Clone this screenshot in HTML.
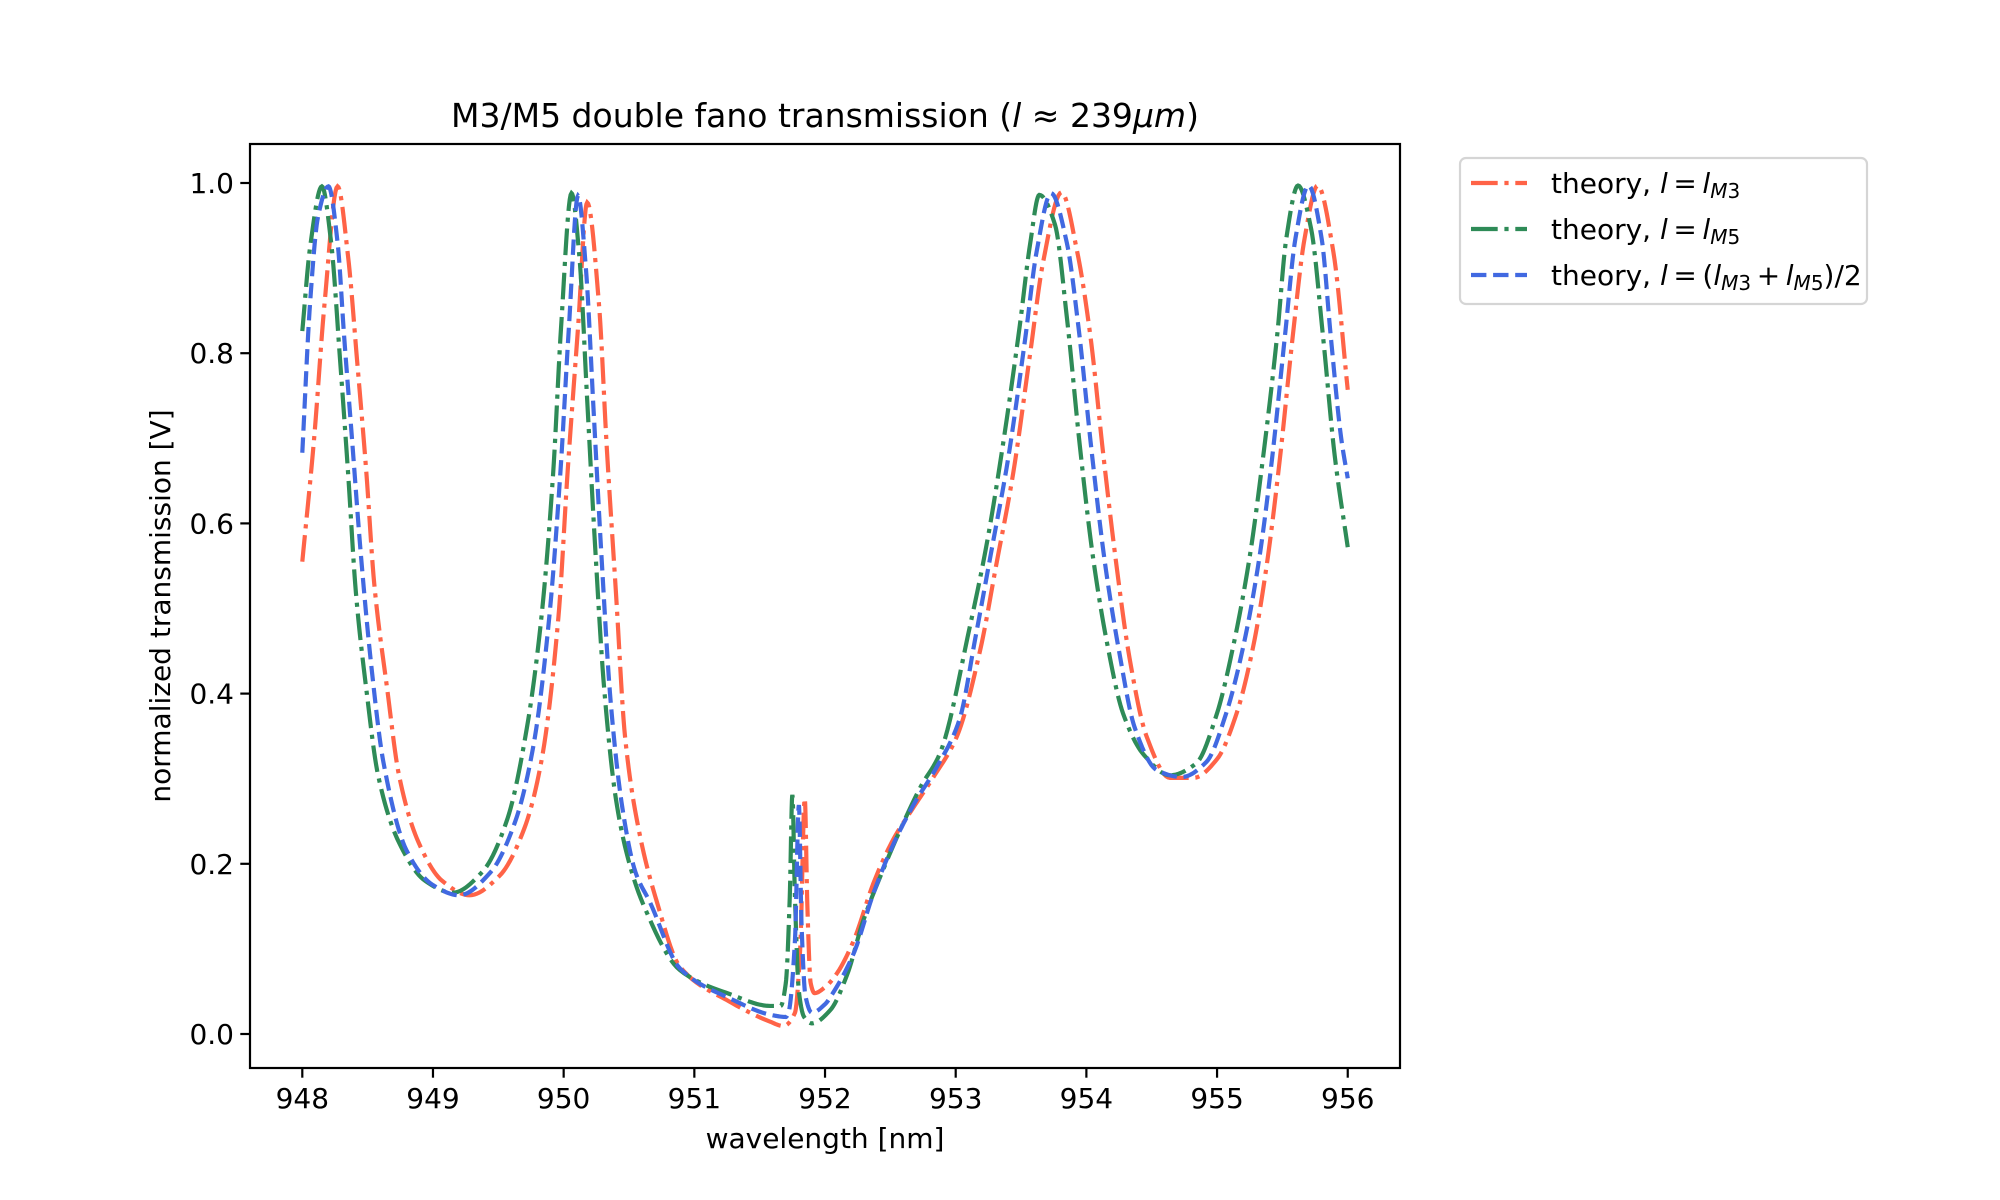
<!DOCTYPE html>
<html><head><meta charset="utf-8"><style>
html,body{margin:0;padding:0;background:#fff}
svg{display:block}
text{font-family:"DejaVu Sans","Liberation Sans",sans-serif;fill:#000}
</style></head><body>
<svg id="chart" width="2000" height="1200" viewBox="0 0 2000 1200" xmlns="http://www.w3.org/2000/svg">
<rect x="0" y="0" width="2000" height="1200" fill="#fff"/>
<text x="825" y="127" font-size="33" text-anchor="middle">M3/M5 double fano transmission (<tspan font-style="italic">l</tspan> ≈ 239<tspan font-style="italic">μm</tspan>)</text>
<g id="plot"></g>
<g id="axes"></g>
<text x="825" y="1148" font-size="28" text-anchor="middle">wavelength [nm]</text>
<text x="170" y="606" font-size="28" text-anchor="middle" transform="rotate(-90 170 606)">normalized transmission [V]</text>
<g>
<rect x="1460" y="158" width="407" height="146" rx="6" fill="#fff" stroke="#d5d5d5" stroke-width="2.2"/>
<g>
<line x1="1471" y1="183" x2="1527" y2="183" stroke="#ff6347" stroke-width="4.2" stroke-dasharray="26.7,6.7,4.2,6.7"/>
<text x="1551" y="193" font-size="28">theory, <tspan font-style="italic">l</tspan>&#8201;=&#8201;<tspan font-style="italic">l</tspan><tspan font-style="italic" font-size="20" dy="5">M</tspan><tspan font-size="20">3</tspan></text>
</g>
<g>
<line x1="1471" y1="229" x2="1527" y2="229" stroke="#2e8b57" stroke-width="4.2" stroke-dasharray="26.7,6.7,4.2,6.7"/>
<text x="1551" y="239" font-size="28">theory, <tspan font-style="italic">l</tspan>&#8201;=&#8201;<tspan font-style="italic">l</tspan><tspan font-style="italic" font-size="20" dy="5">M</tspan><tspan font-size="20">5</tspan></text>
</g>
<g>
<line x1="1471" y1="275" x2="1527" y2="275" stroke="#4169e1" stroke-width="4.2" stroke-dasharray="15.4,6.7"/>
<text x="1551" y="285" font-size="28">theory, <tspan font-style="italic">l</tspan>&#8201;=&#8201;(<tspan font-style="italic">l</tspan><tspan font-style="italic" font-size="20" dy="5">M</tspan><tspan font-size="20">3</tspan><tspan dy="-5">&#8201;+&#8201;</tspan><tspan font-style="italic">l</tspan><tspan font-style="italic" font-size="20" dy="5">M</tspan><tspan font-size="20">5</tspan><tspan dy="-5">)/2</tspan></text>
</g>
</g>
</svg>
<script>
const xTicks=[948,949,950,951,952,953,954,955,956];
const yTicks=[0.0,0.2,0.4,0.6,0.8,1.0];
const yTickLabels=["0.0","0.2","0.4","0.6","0.8","1.0"];
const redX=[948.00,948.09,948.17,948.27,948.35,948.42,948.49,948.55,948.65,948.74,948.89,949.07,949.28,949.51,949.70,949.83,949.96,950.03,950.11,950.18,950.27,950.33,950.40,950.47,950.58,950.71,950.89,951.27,951.58,951.68,951.77,951.81,951.845,951.865,951.89,951.92,952.00,952.09,952.22,952.37,952.52,952.68,952.83,953.01,953.19,953.31,953.44,953.57,953.67,953.81,953.93,954.03,954.13,954.23,954.33,954.46,954.64,954.82,955.00,955.15,955.28,955.38,955.48,955.58,955.67,955.77,955.89,956.00];
const redY=[0.555,0.699,0.858,0.996,0.914,0.79,0.66,0.53,0.405,0.304,0.225,0.18,0.163,0.186,0.242,0.321,0.49,0.66,0.83,0.977,0.858,0.689,0.519,0.349,0.236,0.157,0.079,0.038,0.0145,0.0094,0.025,0.10,0.277,0.15,0.06,0.048,0.055,0.071,0.11,0.177,0.228,0.267,0.302,0.35,0.453,0.551,0.659,0.80,0.908,0.989,0.919,0.821,0.68,0.551,0.442,0.35,0.301,0.301,0.323,0.377,0.458,0.551,0.675,0.821,0.935,0.997,0.919,0.757];
const greenX=[948.00,948.06,948.15,948.22,948.29,948.35,948.41,948.49,948.58,948.74,948.94,949.15,949.38,949.57,949.72,949.83,949.92,949.98,950.06,950.12,950.18,950.24,950.31,950.40,950.50,950.61,950.89,951.27,951.58,951.66,951.70,951.73,951.75,951.77,951.80,951.84,951.90,952.04,952.17,952.29,952.45,952.57,952.73,952.88,953.11,953.24,953.36,953.49,953.57,953.64,953.76,953.85,953.95,954.05,954.16,954.28,954.44,954.64,954.84,955.00,955.12,955.25,955.35,955.46,955.53,955.62,955.72,955.81,955.90,956.00];
const greenY=[0.826,0.925,0.996,0.931,0.79,0.66,0.519,0.405,0.304,0.225,0.18,0.166,0.191,0.253,0.361,0.49,0.66,0.83,0.988,0.914,0.745,0.575,0.406,0.276,0.202,0.152,0.075,0.047,0.033,0.033,0.06,0.16,0.281,0.16,0.05,0.02,0.0125,0.028,0.07,0.132,0.195,0.238,0.29,0.33,0.48,0.578,0.691,0.832,0.929,0.986,0.951,0.843,0.691,0.561,0.458,0.377,0.328,0.304,0.318,0.377,0.453,0.561,0.675,0.821,0.935,0.997,0.946,0.821,0.68,0.572];
const blueX=[948.00,948.06,948.12,948.20,948.27,948.32,948.38,948.45,948.53,948.62,948.80,949.00,949.20,949.44,949.63,949.77,949.89,949.975,950.04,950.11,950.17,950.23,950.29,950.36,950.45,950.55,950.66,950.89,951.27,951.60,951.70,951.72,951.77,951.80,951.82,951.85,951.90,952.00,952.06,952.22,952.37,952.52,952.68,952.86,953.03,953.15,953.27,953.40,953.53,953.62,953.73,953.85,953.94,954.04,954.14,954.25,954.37,954.54,954.73,954.92,955.07,955.20,955.32,955.42,955.52,955.60,955.70,955.80,955.87,955.95,956.00];
const blueY=[0.683,0.86,0.96,0.996,0.93,0.82,0.70,0.56,0.43,0.32,0.215,0.175,0.163,0.19,0.25,0.34,0.49,0.66,0.83,0.985,0.90,0.73,0.56,0.39,0.265,0.19,0.155,0.077,0.042,0.022,0.02,0.025,0.11,0.269,0.13,0.045,0.025,0.035,0.048,0.095,0.165,0.222,0.27,0.315,0.37,0.465,0.565,0.675,0.815,0.92,0.988,0.93,0.83,0.685,0.556,0.45,0.36,0.31,0.302,0.32,0.377,0.455,0.556,0.675,0.821,0.935,0.997,0.935,0.82,0.70,0.653];

const NS="http://www.w3.org/2000/svg";
const AX={l:250,r:1400,t:144,b:1068};
function xs(v){return 302.3+(v-948)*130.68;}
function ys(v){return 1034-851*v;}
function mk(tag,attrs,parent){const e=document.createElementNS(NS,tag);for(const k in attrs)e.setAttribute(k,attrs[k]);parent.appendChild(e);return e;}

function monotone(X,Y,n){
  const m=X.length,d=[],s=[];
  for(let i=0;i<m-1;i++)d.push((Y[i+1]-Y[i])/(X[i+1]-X[i]));
  s[0]=d[0];s[m-1]=d[m-2];
  for(let i=1;i<m-1;i++){
    if(d[i-1]*d[i]<=0)s[i]=0;
    else{const h0=X[i]-X[i-1],h1=X[i+1]-X[i];const w1=2*h1+h0,w2=h1+2*h0;s[i]=(w1+w2)/(w1/d[i-1]+w2/d[i]);}
  }
  const pts=[];
  for(let i=0;i<m-1;i++){
    const h=X[i+1]-X[i];
    for(let k=0;k<n;k++){
      const t=k/n,t2=t*t,t3=t2*t;
      const y=(2*t3-3*t2+1)*Y[i]+(t3-2*t2+t)*h*s[i]+(-2*t3+3*t2)*Y[i+1]+(t3-t2)*h*s[i+1];
      pts.push([X[i]+t*h,y]);
    }
  }
  pts.push([X[m-1],Y[m-1]]);
  return pts;
}
const plot=document.getElementById('plot');
const clip=mk('clipPath',{id:'axclip'},plot);
mk('rect',{x:AX.l,y:AX.t,width:AX.r-AX.l,height:AX.b-AX.t},clip);
function drawSeries(X,Y,color,dash,name){
  const pts=monotone(X,Y,12);
  const d=pts.map((p,i)=>(i?'L':'M')+xs(p[0]).toFixed(2)+','+ys(p[1]).toFixed(2)).join('');
  const p=mk('path',{d:d,fill:'none',stroke:color,'stroke-width':4.2,'stroke-dasharray':dash,'clip-path':'url(#axclip)'},plot);
  
  
}
drawSeries(redX,redY,'#ff6347','26.7,6.7,4.2,6.7','series-theory-m3');
drawSeries(greenX,greenY,'#2e8b57','26.7,6.7,4.2,6.7','series-theory-m5');
drawSeries(blueX,blueY,'#4169e1','15.4,6.7','series-theory-mean');

const axes=document.getElementById('axes');
const frame=mk('rect',{x:AX.l,y:AX.t,width:AX.r-AX.l,height:AX.b-AX.t,fill:'none',stroke:'#000','stroke-width':2.2},axes);


xTicks.forEach(v=>{
  const x=xs(v);
  const t=mk('line',{x1:x,y1:AX.b,x2:x,y2:AX.b+9.7,stroke:'#000','stroke-width':2.2},axes);
  
  
  const lb=mk('text',{x:x,y:1108,'font-size':28,'text-anchor':'middle'},axes);
  lb.textContent=String(v);
  
  
});
yTicks.forEach((v,i)=>{
  const y=ys(v);
  const t=mk('line',{x1:AX.l-9.7,y1:y,x2:AX.l,y2:y,stroke:'#000','stroke-width':2.2},axes);
  
  
  const lb=mk('text',{x:AX.l-16,y:y+10,'font-size':28,'text-anchor':'end'},axes);
  lb.textContent=yTickLabels[i];
  
  
});
</script>
</body></html>
